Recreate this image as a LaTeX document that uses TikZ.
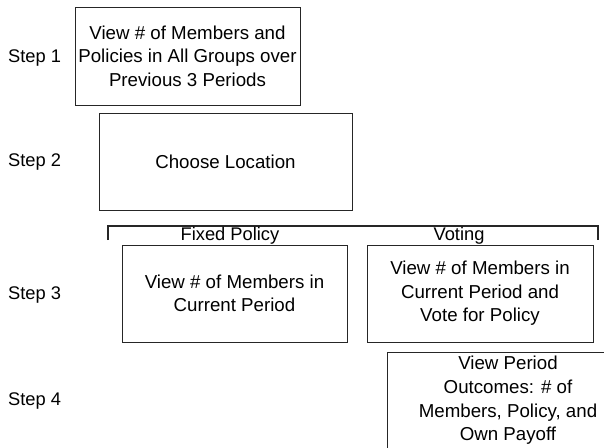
\documentclass[tikz,border=0pt]{standalone}
\usepackage{fontspec}
\setmainfont{Liberation Sans}
\tikzset{
    stagebox/.style={draw=black!85, line width=0.9pt, align=center, inner sep=0pt,
        font=\fontsize{18.7}{23.6}\selectfont},
    steplabel/.style={anchor=west, inner sep=0pt, font=\fontsize{18.3}{22}\selectfont},
    treatlabel/.style={anchor=base, inner sep=0pt, font=\fontsize{18.3}{22}\selectfont}
}
\begin{document}
\begin{tikzpicture}[x=1pt, y=-1pt]
        \useasboundingbox (0,0) rectangle (604,447);
        \clip (0,0) rectangle (604,447);

        % Step labels on the left
        \foreach \n/\ypos in {1/58, 2/162, 3/295, 4/401} {
            \node[steplabel] (step\n) at (8, \ypos) {Step \n};
        }

        % Step 1 and Step 2
        \node[stagebox, minimum width=225, minimum height=98] (history) at (187.5, 56)
            {View \# of Members and\\Policies in All Groups over\\Previous 3 Periods};
        \node[stagebox, minimum width=253, minimum height=97] (location) at (225.5, 161.5)
            {Choose Location};

        % Treatments bracket
        \draw[line width=1.6pt, black!85] (108, 240) -- (108, 226) -- (598, 226) -- (598, 240);
        \node[treatlabel] (fixed) at (230, 240) {Fixed Policy};
        \node[treatlabel] (voting) at (459, 240) {Voting};

        % Step 3: one box per treatment
        \node[stagebox, minimum width=225, minimum height=97] (fixedbox) at (234.5, 293.5)
            {View \# of Members in\\Current Period};
        \node[stagebox, minimum width=226, minimum height=97] (votebox) at (480, 293.5)
            {View \# of Members in\\Current Period and\\Vote for Policy};

        % Step 4: outcomes (runs off the page)
        \node[stagebox, minimum width=242, minimum height=97] (outcome) at (508, 400.5)
            {View Period\\Outcomes: \# of\\Members, Policy, and\\Own Payoff};
\end{tikzpicture}
\end{document}
